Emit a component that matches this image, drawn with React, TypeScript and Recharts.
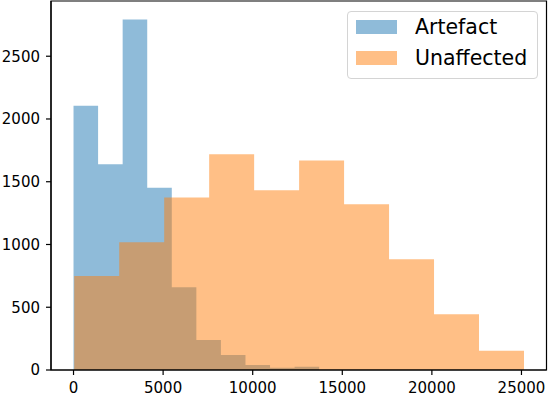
import React from 'react';
import { ComposedChart, Area, XAxis, YAxis, Legend, ReferenceArea } from 'recharts';

// Histogram bin edges and counts
const artefactEdges = [0, 1371, 2742, 4113, 5484, 6855, 8226, 9597, 10968, 12339, 13710];
const artefactCounts = [2105, 1640, 2793, 1453, 660, 239, 119, 40, 18, 26];
const unaffectedEdges = [40, 2550, 5060, 7570, 10080, 12590, 15100, 17610, 20120, 22630, 25140];
const unaffectedCounts = [748, 1018, 1374, 1718, 1432, 1670, 1320, 883, 445, 154];

const xTicks = [0, 5000, 10000, 15000, 20000, 25000];
const yTicks = [0, 500, 1000, 1500, 2000, 2500];
const xDomain = [-1257, 26397];
const yDomain = [0, 2940];

const seriesNames = { artefact: 'Artefact', unaffected: 'Unaffected' };
const BLUE = '#1f77b4';
const ORANGE = '#ff7f0e';

type Row = { x: number; artefact?: number; unaffected?: number };

function buildRows(): Row[] {
  const map = new Map<number, Row>();
  const add = (edges: number[], counts: number[], key: 'artefact' | 'unaffected') => {
    edges.forEach((e, i) => {
      const r = map.get(e) || { x: e };
      r[key] = i < counts.length ? counts[i] : 0;
      map.set(e, r);
    });
  };
  add(artefactEdges, artefactCounts, 'artefact');
  add(unaffectedEdges, unaffectedCounts, 'unaffected');
  return Array.from(map.values()).sort((a, b) => a.x - b.x);
}

const data = buildRows();

const font = '"DejaVu Sans", sans-serif';

const legendColors: Record<string, string> = {
  [seriesNames.artefact]: BLUE,
  [seriesNames.unaffected]: ORANGE,
};

const renderLegend = (props: any) => {
  const payload = (props.payload || []) as any[];
  return (
    <div
      style={{
        position: 'relative',
        width: 189,
        height: 66,
        border: '1px solid #d4d4d4',
        borderRadius: 4,
        background: 'rgba(255,255,255,0.8)',
        fontFamily: font,
        fontSize: 20.5,
        color: '#000',
      }}
    >
      {payload.map((entry, i) => (
        <React.Fragment key={entry.value}>
          <div
            style={{
              position: 'absolute',
              left: 8,
              top: 8 + i * 30.5,
              width: 41,
              height: 14,
              background: legendColors[entry.value] || entry.color,
              opacity: 0.5,
            }}
          />
          <div
            style={{
              position: 'absolute',
              left: 67,
              top: 5 + i * 30.5,
              lineHeight: '20.5px',
              whiteSpace: 'nowrap',
            }}
          >
            {entry.value}
          </div>
        </React.Fragment>
      ))}
    </div>
  );
};

export default function App() {
  return (
    <div style={{ position: 'absolute', left: 0, top: 0, width: 548, height: 396, background: '#fff' }}>
      <ComposedChart
        width={548}
        height={396}
        data={data}
        margin={{ top: 1, right: 1.5, left: 0, bottom: 0 }}
      >
        <XAxis
          dataKey="x"
          type="number"
          domain={xDomain}
          ticks={xTicks}
          allowDataOverflow
          height={26}
          tickSize={5}
          tickMargin={7}
          axisLine={{ stroke: '#000', strokeWidth: 1.2 }}
          tickLine={{ stroke: '#000', strokeWidth: 1.2 }}
          tick={{ fill: '#000', fontSize: 15, fontFamily: font }}
          interval={0}
        />
        <YAxis
          type="number"
          domain={yDomain}
          ticks={yTicks}
          allowDataOverflow
          width={51}
          tickSize={5}
          tickMargin={6}
          axisLine={{ stroke: '#000', strokeWidth: 1.2 }}
          tickLine={{ stroke: '#000', strokeWidth: 1.2 }}
          tick={{ fill: '#000', fontSize: 15, fontFamily: font }}
          interval={0}
        />
        <Area
          dataKey="artefact"
          name={seriesNames.artefact}
          type="stepAfter"
          stroke="none"
          fill={BLUE}
          fillOpacity={0.5}
          connectNulls
          isAnimationActive={false}
          dot={false}
          activeDot={false}
        />
        <Area
          dataKey="unaffected"
          name={seriesNames.unaffected}
          type="stepAfter"
          stroke="none"
          fill={ORANGE}
          fillOpacity={0.5}
          connectNulls
          isAnimationActive={false}
          dot={false}
          activeDot={false}
        />
        <ReferenceArea
          x1={xDomain[0]}
          x2={xDomain[1]}
          y1={yDomain[0]}
          y2={yDomain[1]}
          fill="none"
          stroke="#000"
          strokeWidth={1.2}
          ifOverflow="visible"
        />
        <Legend
          layout="vertical"
          align="center"
          verticalAlign="middle"
          content={renderLegend}
          wrapperStyle={{ left: 347, top: 11, width: 191, height: 68 }}
        />
      </ComposedChart>
    </div>
  );
}
